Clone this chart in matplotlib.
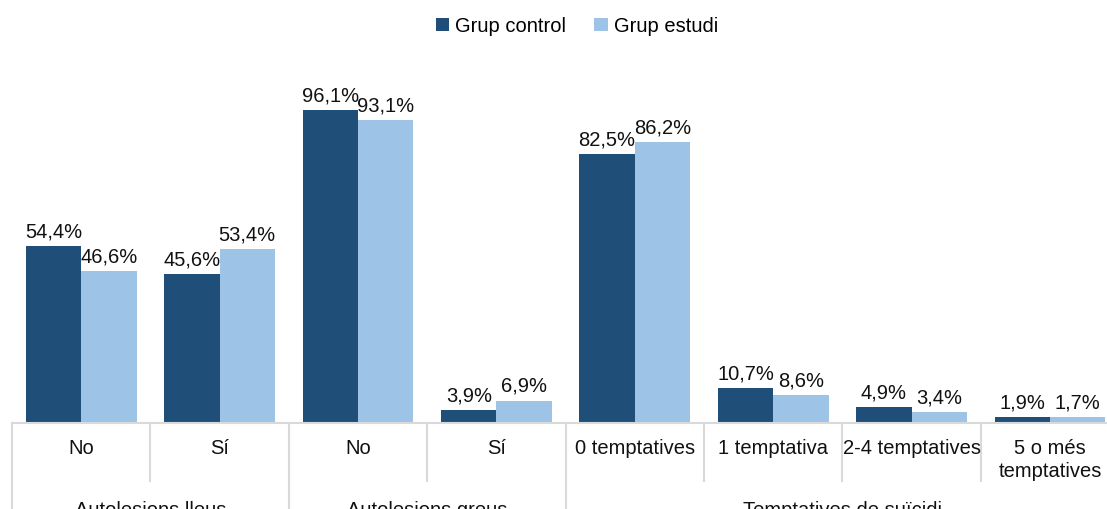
import matplotlib
matplotlib.use("Agg")
import matplotlib.pyplot as plt
import matplotlib.transforms as mtransforms
from matplotlib.patches import Patch
import numpy as np

plt.rcParams['font.family'] = ['Liberation Sans', 'DejaVu Sans']

categories = ["No", "Sí", "No", "Sí", "0 temptatives", "1 temptativa",
              "2-4 temptatives", "5 o més\ntemptatives"]
groups = ["Autolesions lleus", "Autolesions greus", "Temptatives de suïcidi"]
group_spans = [(0, 1), (2, 3), (4, 7)]
series_names = ["Grup control", "Grup estudi"]
grup_control = [54.4, 45.6, 96.1, 3.9, 82.5, 10.7, 4.9, 1.9]
grup_estudi = [46.6, 53.4, 93.1, 6.9, 86.2, 8.6, 3.4, 1.7]

colors = ["#1F4E79", "#9DC3E6"]
sep_color = "#D9D9D9"
text_color = "#111111"
W, H = 1107, 510
fs = 14.5

fig = plt.figure(figsize=(W / 100, H / 100), dpi=100)
ax_h_px = 325.7
ax = fig.add_axes([12 / W, 86 / H, 1107.2 / W, ax_h_px / H])

x = np.arange(len(categories))
bw = 0.4
for i, (vals, name) in enumerate(zip([grup_control, grup_estudi], series_names)):
    xs = x + (i - 0.5) * bw
    ax.bar(xs, vals, width=bw, color=colors[i], label=name, zorder=2)
    for xi, v in zip(xs, vals):
        ax.annotate(f"{v:.1f}%".replace(".", ","), (xi, v), xytext=(0, 4),
                    textcoords="offset points", ha="center", va="bottom",
                    fontsize=fs, color=text_color, annotation_clip=False)

ax.set_xlim(-0.5, len(categories) - 0.5)
ax.set_ylim(0, 100)
ax.axis("off")

trans = mtransforms.blended_transform_factory(ax.transData, ax.transAxes)
px = 1 / ax_h_px

# baseline
ax.plot([-0.5, len(categories) - 0.5], [0, 0], transform=trans, color=sep_color,
        lw=1.5, clip_on=False, zorder=3)
# category and group separators
group_edges = {s - 0.5 for s, _ in group_spans} | {group_spans[-1][1] + 0.5}
for b in np.arange(-0.5, len(categories), 1.0):
    low = -100 * px if b in group_edges else -58 * px
    ax.plot([b, b], [0, low], transform=trans, color=sep_color, lw=1.5,
            clip_on=False)

# category labels
for xi, lab in zip(x, categories):
    ax.text(xi, -15 * px, lab, transform=trans, ha="center", va="top",
            fontsize=fs, color=text_color, linespacing=1.25)

# group labels
for (s, e), g in zip(group_spans, groups):
    ax.text((s + e) / 2, -77 * px, g, transform=trans, ha="center", va="top",
            fontsize=fs, color=text_color)

handles = [Patch(facecolor=c, edgecolor="none") for c in colors]
fig.legend(handles, series_names, loc="center", bbox_to_anchor=(577 / W, 1 - 27 / H),
           ncol=2, frameon=False, fontsize=14.5, handlelength=0.65, handleheight=0.65,
           handletextpad=0.3, columnspacing=1.4)

fig.savefig("out.png", dpi=100)
